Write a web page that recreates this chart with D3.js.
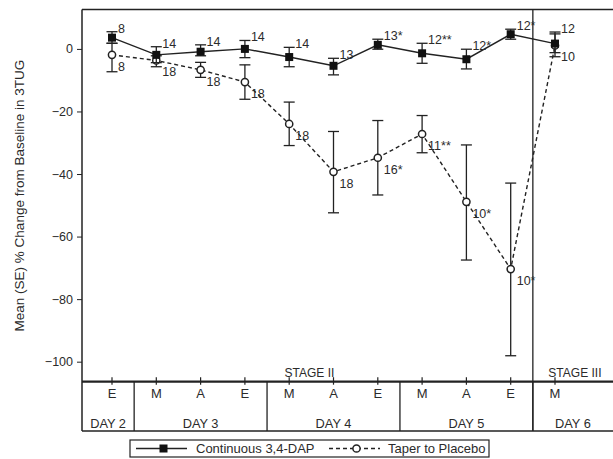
<!DOCTYPE html>
<html>
<head>
<meta charset="utf-8">
<script src="https://cdn.jsdelivr.net/npm/d3@7"></script>
<style>
  body { margin: 0; background: #fff; }
  svg { display: block; font-family: "Liberation Sans", Arial, sans-serif; }
  text { fill: #2b2b2b; }
</style>
</head>
<body>
<svg id="chart" width="613" height="459"></svg>
<script>
// time slots along the x axis (day + period of the day)
const slots = ["D2E", "D3M", "D3A", "D3E", "D4M", "D4A", "D4E", "D5M", "D5A", "D5E", "D6M"];
const periodLabels = ["E", "M", "A", "E", "M", "A", "E", "M", "A", "E", "M"];
const slotDay = ["DAY 2", "DAY 3", "DAY 3", "DAY 3", "DAY 4", "DAY 4", "DAY 4", "DAY 5", "DAY 5", "DAY 5", "DAY 6"];
const days = ["DAY 2", "DAY 3", "DAY 4", "DAY 5", "DAY 6"];
const stages = ["STAGE II", "STAGE III"];
const dayStage = ["STAGE II", "STAGE II", "STAGE II", "STAGE II", "STAGE III"];
const yTicks = [0, -20, -40, -60, -80, -100];

// Continuous 3,4-DAP
const contMean = [3.6, -1.9, -0.9, 0.0, -2.6, -5.4, 1.3, -1.4, -3.3, 4.7, 1.7];
const contHigh = [5.5, 0.7, 1.3, 2.7, 0.5, -3.0, 3.1, 1.8, -0.1, 6.3, 5.4];
const contLow = [1.8, -4.4, -2.2, -2.8, -5.7, -8.3, -0.1, -4.6, -6.4, 3.1, -1.2];
const contN = ["8", "14", "14", "14", "14", "13", "13*", "12**", "12*", "12*", "12"];

// Taper to Placebo
const taperMean = [-1.9, -3.7, -6.7, -10.6, -24.0, -39.3, -34.8, -27.2, -48.9, -70.4, 1.1];
const taperHigh = [1.8, -2.2, -4.3, -5.1, -17.0, -26.4, -22.9, -21.3, -30.7, -42.9, 4.8];
const taperLow = [-7.3, -5.7, -9.1, -16.1, -30.9, -52.4, -46.7, -33.2, -67.5, -98.1, -2.5];
const taperN = ["8", "18", "18", "18", "18", "18", "16*", "11**", "10*", "10*", "10"];

(function () {
const ink = "#222";
const plotLeft = 82, plotRight = 613, plotTop = 9.5, axisY = 381.7, tableBottom = 431;

const svg = d3.select("#chart");

const x = d3.scalePoint().domain(slots).range([112, 555]);
const y = d3.scaleLinear().domain([-106.4, 12.6]).range([axisY, plotTop]);

// day boundaries: halfway between neighbouring slots of different days
function dayExtent(day) {
    const idx = slots.map((s, i) => i).filter(i => slotDay[i] === day);
    const a = idx[0], b = idx[idx.length - 1];
    const x0 = a === 0 ? plotLeft : (x(slots[a - 1]) + x(slots[a])) / 2;
    const x1 = b === slots.length - 1 ? plotRight : (x(slots[b]) + x(slots[b + 1])) / 2;
    return [x0, x1];
}
const dayBounds = days.map(d => ({ day: d, ext: dayExtent(d) }));

// frame
svg.append("line").attr("x1", plotLeft).attr("x2", plotRight).attr("y1", plotTop).attr("y2", plotTop)
    .attr("stroke", ink).attr("stroke-width", 1.5);
svg.append("line").attr("x1", plotLeft).attr("x2", plotLeft).attr("y1", plotTop).attr("y2", tableBottom)
    .attr("stroke", ink).attr("stroke-width", 1.5);
svg.append("line").attr("x1", plotLeft).attr("x2", plotRight).attr("y1", tableBottom).attr("y2", tableBottom)
    .attr("stroke", ink).attr("stroke-width", 1.5);
svg.append("line").attr("x1", plotLeft).attr("x2", plotRight).attr("y1", axisY).attr("y2", axisY)
    .attr("stroke", ink).attr("stroke-width", 2.2);

// y axis
const yAxis = svg.append("g").attr("transform", `translate(${plotLeft},0)`)
    .call(d3.axisLeft(y).tickValues(yTicks).tickSize(5).tickPadding(4).tickFormat(d3.format("d")));
yAxis.select(".domain").remove();
yAxis.selectAll(".tick line").attr("stroke", ink);
yAxis.selectAll(".tick text").attr("font-size", 12.5).attr("font-family", "Liberation Sans, Arial, sans-serif").attr("fill", "#2b2b2b");

svg.append("text")
    .attr("transform", `translate(19,${(plotTop + axisY) / 2}) rotate(-90)`)
    .attr("text-anchor", "middle").attr("dominant-baseline", "central")
    .attr("font-size", 13.5)
    .text("Mean (SE) % Change from Baseline in 3TUG");

// x ticks crossing the axis line
svg.append("g").selectAll("line").data(slots).join("line")
    .attr("x1", d => x(d)).attr("x2", d => x(d))
    .attr("y1", axisY - 4.5).attr("y2", axisY + 3)
    .attr("stroke", ink).attr("stroke-width", 1.2);

svg.append("g").selectAll("text").data(slots).join("text")
    .attr("x", d => x(d)).attr("y", 398)
    .attr("text-anchor", "middle").attr("font-size", 13)
    .text((d, i) => periodLabels[i]);

// day dividers and labels
svg.append("g").selectAll("line").data(dayBounds.slice(1)).join("line")
    .attr("x1", d => d.ext[0]).attr("x2", d => d.ext[0])
    .attr("y1", axisY).attr("y2", tableBottom)
    .attr("stroke", ink).attr("stroke-width", 1.3);

svg.append("g").selectAll("text").data(dayBounds).join("text")
    .attr("x", d => (d.ext[0] + d.ext[1]) / 2).attr("y", 428)
    .attr("text-anchor", "middle").attr("font-size", 12.8)
    .text(d => d.day);

// stages
const stageBounds = stages.map(s => {
    const ds = dayBounds.filter((d, i) => dayStage[i] === s);
    return { stage: s, ext: [ds[0].ext[0], ds[ds.length - 1].ext[1]] };
});
svg.append("g").selectAll("line").data(stageBounds.slice(1)).join("line")
    .attr("x1", d => d.ext[0]).attr("x2", d => d.ext[0])
    .attr("y1", plotTop).attr("y2", tableBottom)
    .attr("stroke", ink).attr("stroke-width", 1.3);
svg.append("g").selectAll("text").data(stageBounds).join("text")
    .attr("x", d => (d.ext[0] + d.ext[1]) / 2 + 2).attr("y", axisY - 5)
    .attr("text-anchor", "middle").attr("font-size", 12)
    .text(d => d.stage);

// series
function series(mean, high, low) {
    return slots.map((s, i) => ({ slot: s, m: mean[i], hi: high[i], lo: low[i] }));
}
const cont = series(contMean, contHigh, contLow);
const taper = series(taperMean, taperHigh, taperLow);

function errorBars(g, data) {
    g.selectAll("line.bar").data(data).join("line").attr("class", "bar")
        .attr("x1", d => x(d.slot)).attr("x2", d => x(d.slot))
        .attr("y1", d => y(d.hi)).attr("y2", d => y(d.lo));
    g.selectAll("line.capHi").data(data).join("line").attr("class", "capHi")
        .attr("x1", d => x(d.slot) - 5.5).attr("x2", d => x(d.slot) + 5.5)
        .attr("y1", d => y(d.hi)).attr("y2", d => y(d.hi));
    g.selectAll("line.capLo").data(data).join("line").attr("class", "capLo")
        .attr("x1", d => x(d.slot) - 5.5).attr("x2", d => x(d.slot) + 5.5)
        .attr("y1", d => y(d.lo)).attr("y2", d => y(d.lo));
    g.attr("stroke", ink).attr("stroke-width", 1.3);
}

const line = d3.line().x(d => x(d.slot)).y(d => y(d.m));

// taper (drawn first, underneath)
const tg = svg.append("g");
errorBars(tg.append("g"), taper);
tg.append("path").datum(taper).attr("d", line)
    .attr("fill", "none").attr("stroke", ink).attr("stroke-width", 1.4).attr("stroke-dasharray", "4,3");
tg.append("g").selectAll("circle").data(taper).join("circle")
    .attr("cx", d => x(d.slot)).attr("cy", d => y(d.m)).attr("r", 3.6)
    .attr("fill", "#fff").attr("stroke", ink).attr("stroke-width", 1.5);
tg.append("g").selectAll("text").data(taper).join("text")
    .attr("x", d => x(d.slot) + 6).attr("y", d => y(d.m) + 16)
    .attr("font-size", 12.5)
    .text((d, i) => taperN[i]);

// continuous
const cg = svg.append("g");
errorBars(cg.append("g"), cont);
cg.append("path").datum(cont).attr("d", line)
    .attr("fill", "none").attr("stroke", ink).attr("stroke-width", 1.4);
cg.append("g").selectAll("rect").data(cont).join("rect")
    .attr("x", d => x(d.slot) - 4).attr("y", d => y(d.m) - 4)
    .attr("width", 8).attr("height", 8).attr("fill", "#111");
cg.append("g").selectAll("text").data(cont).join("text")
    .attr("x", d => x(d.slot) + 6).attr("y", d => y(d.hi) + 1)
    .attr("font-size", 12.5)
    .text((d, i) => contN[i]);

// legend
const lg = svg.append("g");
lg.append("rect").attr("x", 130).attr("y", 440).attr("width", 359).attr("height", 17)
    .attr("fill", "#fff").attr("stroke", ink).attr("stroke-width", 1.2);
lg.append("line").attr("x1", 136).attr("x2", 187).attr("y1", 448.5).attr("y2", 448.5)
    .attr("stroke", ink).attr("stroke-width", 1.4);
lg.append("rect").attr("x", 159.5).attr("y", 444.5).attr("width", 8).attr("height", 8).attr("fill", "#111");
lg.append("text").attr("x", 196).attr("y", 453).attr("font-size", 13).text("Continuous 3,4-DAP");
lg.append("line").attr("x1", 329).attr("x2", 380).attr("y1", 448.5).attr("y2", 448.5)
    .attr("stroke", ink).attr("stroke-width", 1.4).attr("stroke-dasharray", "4,3");
lg.append("circle").attr("cx", 356.5).attr("cy", 448.5).attr("r", 3.6)
    .attr("fill", "#fff").attr("stroke", ink).attr("stroke-width", 1.5);
lg.append("text").attr("x", 388).attr("y", 453).attr("font-size", 13).text("Taper to Placebo");
})();
</script>
</body>
</html>
